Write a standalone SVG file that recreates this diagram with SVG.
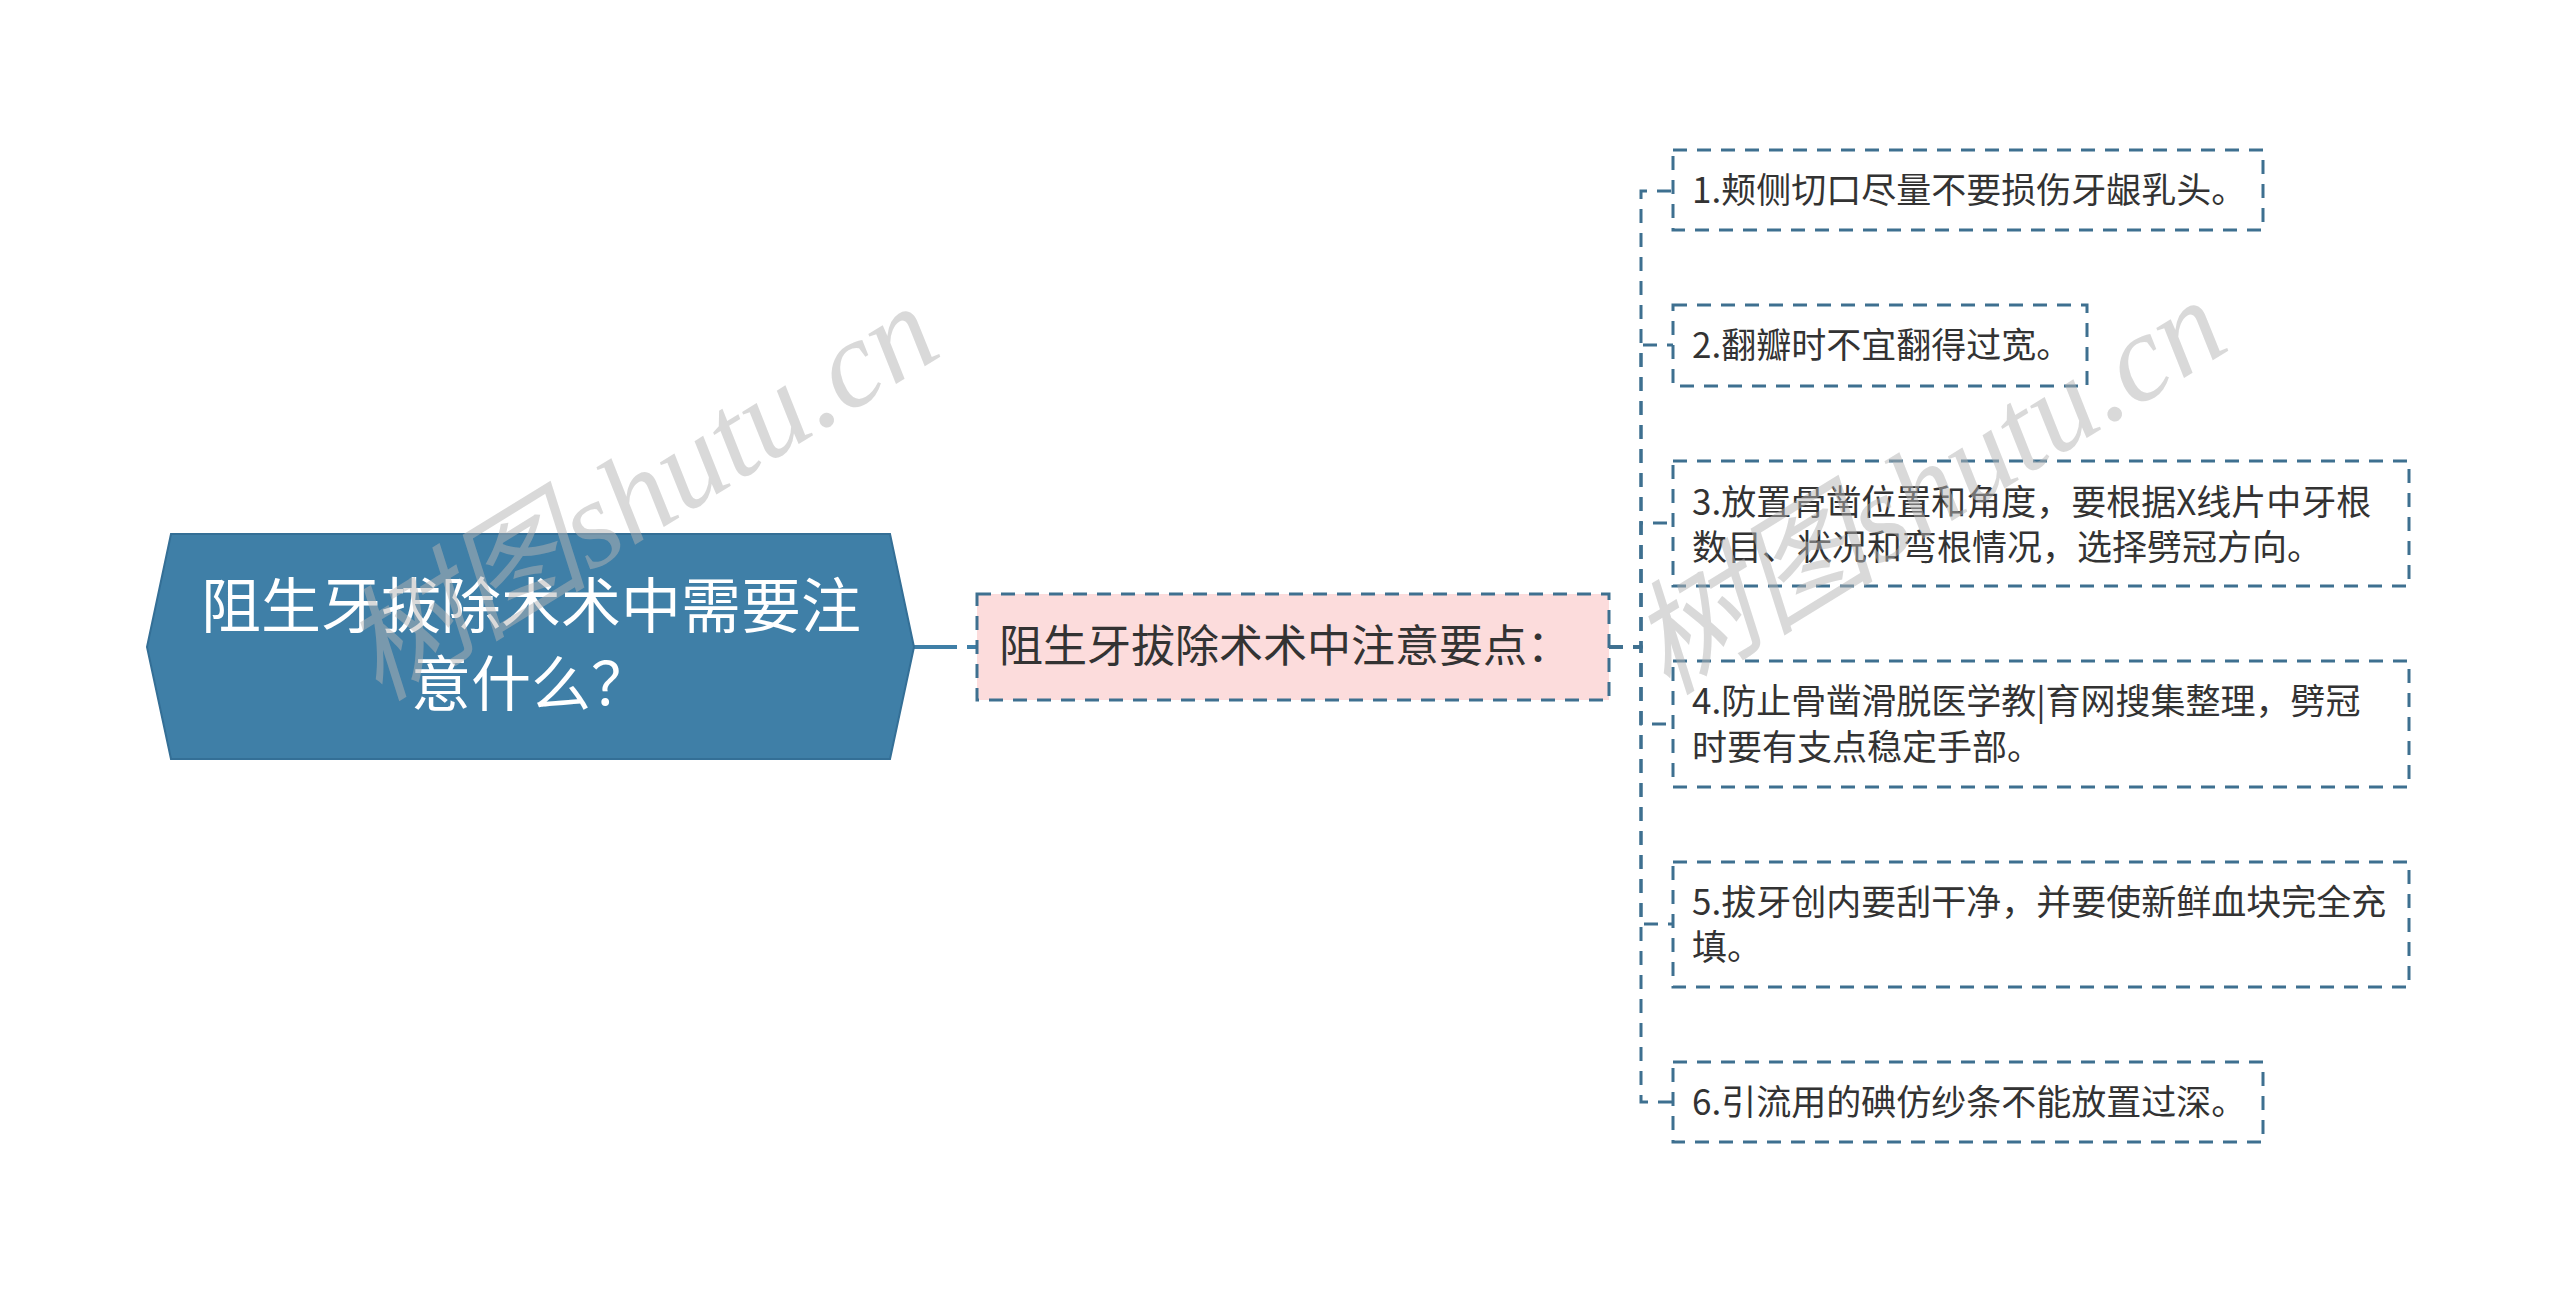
<svg xmlns="http://www.w3.org/2000/svg" width="2560" height="1293" viewBox="0 0 2560 1293">
<style>
.bg{fill:#ffffff}
.root{fill:#3f7fa7;stroke:#346f96;stroke-width:2}
.rt{font-family:"Noto Sans CJK SC","Noto Sans",sans-serif;font-size:60px;fill:#ffffff;text-anchor:middle}
.mid{fill:#fcdcdc;stroke:#3e7090;stroke-width:3;stroke-dasharray:14 10}
.leaf{fill:#ffffff;stroke:#3e7090;stroke-width:3;stroke-dasharray:14 10}
.mt{font-family:"Noto Sans CJK SC","Noto Sans",sans-serif;font-size:44px;fill:#333333}
.lt{font-family:"Noto Sans CJK SC","Noto Sans",sans-serif;font-size:35px;fill:#333333}
.con{fill:none;stroke:#3e7090;stroke-width:3;stroke-dasharray:14 10}
.solid{fill:none;stroke:#3f7fa7;stroke-width:4}
.wm{font-family:"Liberation Serif","Noto Sans CJK SC",serif;font-style:italic;font-size:124px;fill:#b4b4b4;fill-opacity:0.5;text-anchor:middle}
</style>
<rect class="bg" x="0" y="0" width="2560" height="1293"/>
<g id="connectors">
<line class="solid" x1="914" y1="647" x2="957" y2="647"/>
<line class="solid" x1="967" y1="647" x2="977" y2="647"/>
<path class="con" d="M1609 647 H1641 V191 H1673"/>
<path class="con" d="M1609 647 H1641 V345 H1673"/>
<path class="con" d="M1609 647 H1641 V523 H1673"/>
<path class="con" d="M1609 647 H1641 V724 H1673"/>
<path class="con" d="M1609 647 H1641 V924 H1673"/>
<path class="con" d="M1609 647 H1641 V1102 H1673"/>
</g>
<g id="root">
<polygon class="root" points="147,647 171,534 890,534 914,647 890,759 171,759"/>
<text class="rt" x="531" y="628">阻生牙拔除术术中需要注</text>
<text class="rt" x="531" y="706">意什么？</text>
</g>
<g id="main">
<rect class="mid" x="977" y="594" width="632" height="106"/>
<text class="mt" x="999" y="662">阻生牙拔除术术中注意要点：</text>
</g>
<g id="leaf1">
<rect class="leaf" x="1673" y="150" width="590" height="80"/>
<text class="lt" x="1692" y="203">1.颊侧切口尽量不要损伤牙龈乳头。</text>
</g>
<g id="leaf2">
<rect class="leaf" x="1673" y="305" width="414" height="81"/>
<text class="lt" x="1692" y="358">2.翻瓣时不宜翻得过宽。</text>
</g>
<g id="leaf3">
<rect class="leaf" x="1673" y="461" width="736" height="125"/>
<text class="lt" x="1692" y="515">3.放置骨凿位置和角度，要根据X线片中牙根</text>
<text class="lt" x="1692" y="560">数目、状况和弯根情况，选择劈冠方向。</text>
</g>
<g id="leaf4">
<rect class="leaf" x="1673" y="661" width="736" height="126"/>
<text class="lt" x="1692" y="714">4.防止骨凿滑脱医学教|育网搜集整理，劈冠</text>
<text class="lt" x="1692" y="760">时要有支点稳定手部。</text>
</g>
<g id="leaf5">
<rect class="leaf" x="1673" y="862" width="736" height="125"/>
<text class="lt" x="1692" y="915">5.拔牙创内要刮干净，并要使新鲜血块完全充</text>
<text class="lt" x="1692" y="960">填。</text>
</g>
<g id="leaf6">
<rect class="leaf" x="1673" y="1062" width="590" height="80"/>
<text class="lt" x="1692" y="1115">6.引流用的碘仿纱条不能放置过深。</text>
</g>
<g id="watermarks">
<text class="wm" transform="translate(662,528) rotate(-31.6)">树图shutu.cn</text>
<text class="wm" transform="translate(1950,522) rotate(-31.6)">树图shutu.cn</text>
</g>
</svg>
